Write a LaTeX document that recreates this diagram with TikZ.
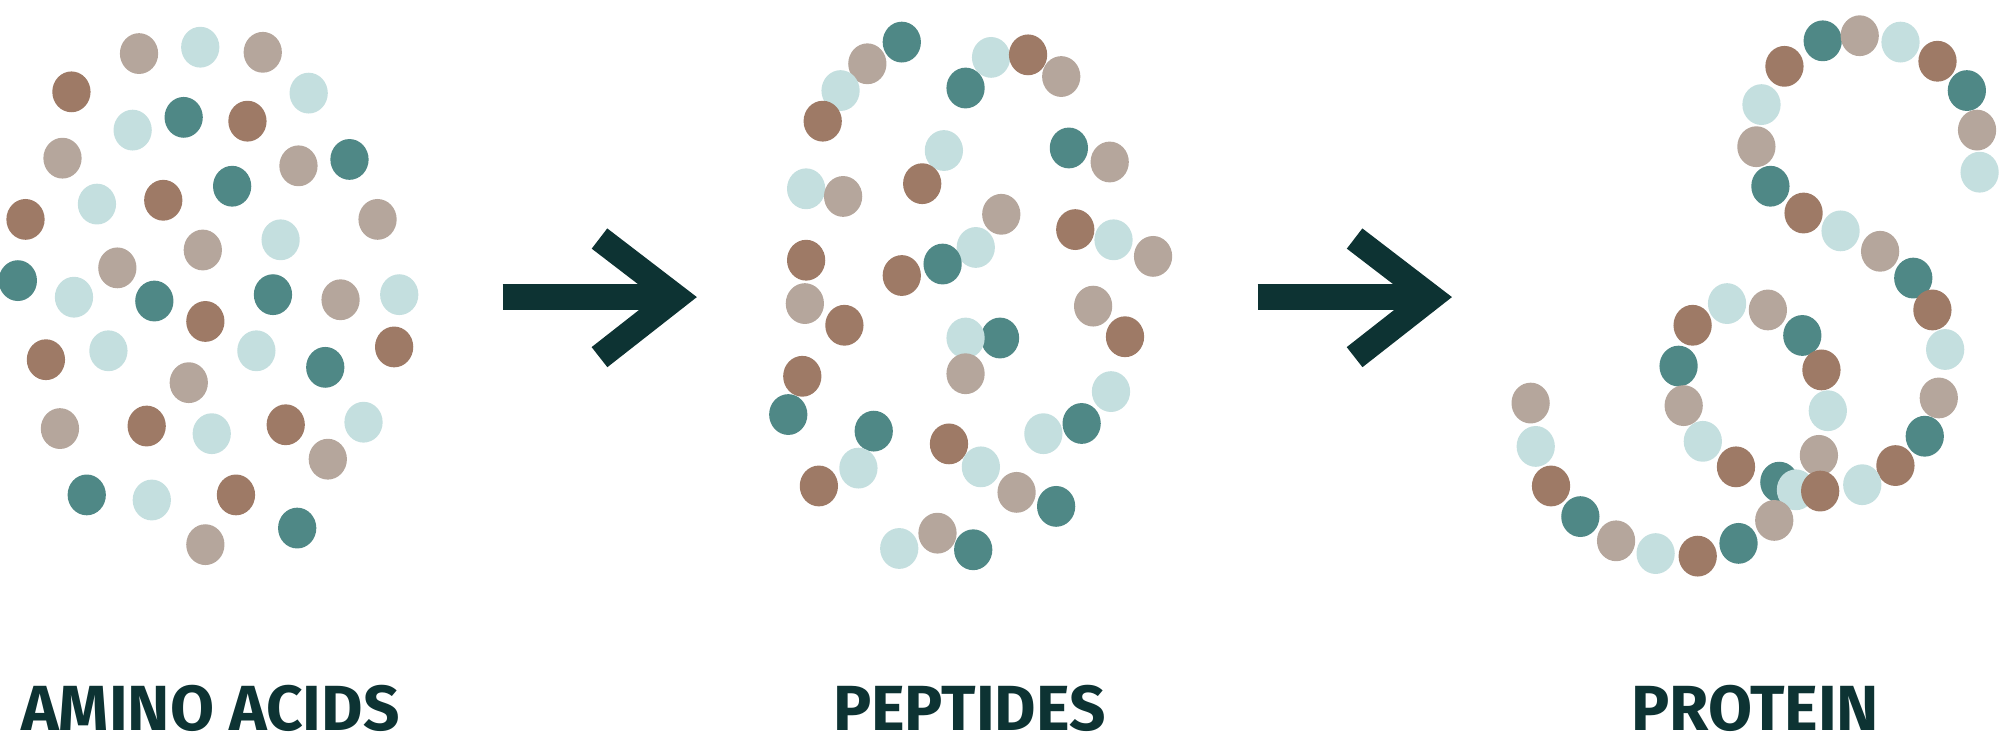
\documentclass[tikz,border=0pt]{standalone}
\usepackage{fontspec}
\setmainfont{Fira Sans}
\definecolor{tl}{HTML}{4F8886}
\definecolor{lt}{HTML}{C4DFDF}
\definecolor{br}{HTML}{9E7A66}
\definecolor{gr}{HTML}{B5A69C}
\definecolor{dk}{HTML}{0D3333}
\tikzset{arr/.style={draw=dk,line width=20pt},lab/.style={text=dk,font=\bfseries\fontsize{50}{50}\selectfont,anchor=base}}
\newcommand{\mydots}[1]{\foreach \c/\x/\y in {#1}{\fill[\c] (\x,\y) ellipse[x radius=15,y radius=16];}}
\begin{document}
\begin{tikzpicture}[x=1pt,y=-1pt]
\useasboundingbox (0,0) rectangle (1568,590);
\mydots{gr/109/42,lt/157/37,gr/206/41,br/56/72,lt/242/73,lt/104/102,tl/144/92,br/194/95,gr/49/124,gr/234/130,tl/274/125,lt/76/160,br/128/157,tl/182/146,br/20/172,gr/296/172,lt/220/188,gr/159/196,gr/92/210,tl/14/220,lt/58/233,tl/121/236,br/161/252,tl/214/231,gr/267/235,lt/313/231,br/36/282,lt/85/275,lt/201/275,tl/255/288,br/309/272,gr/148/300,gr/47/336,br/115/334,lt/166/340,br/224/333,lt/285/331,gr/257/360,tl/68/388,lt/119/392,br/185/388,tl/233/414,gr/161/427}
\mydots{tl/707/33,gr/680/50,lt/777/45,br/806/43,gr/832/60,lt/659/71,tl/757/69,br/645/95,lt/740/118,tl/838/116,gr/870/127,lt/632/148,gr/661/154,br/723/144,gr/785/168,br/843/180,lt/873/188,gr/904/201,br/632/204,lt/765/194,tl/739/207,br/707/216,gr/631/238,br/662/255,gr/857/240,tl/784/265,lt/757/265,br/882/264,gr/757/293,br/629/295,lt/871/307,tl/618/325,tl/685/338,br/744/348,lt/818/340,tl/848/332,lt/769/366,lt/673/367,br/642/381,gr/797/386,tl/828/397,lt/705/430,gr/735/418,tl/763/431}
\mydots{tl/1429/32,gr/1458/28,lt/1490/33,br/1519/48,br/1399/52,tl/1542/71,lt/1381/82,gr/1550/102,gr/1377/115,lt/1552/135,tl/1388/146,br/1414/167,lt/1443/181,gr/1474/197,tl/1500/218,br/1515/243,lt/1354/238,gr/1386/243,br/1327/255,tl/1413/263,lt/1525/274,tl/1316/287,br/1428/290,gr/1520/312,gr/1320/318,lt/1433/322,gr/1200/316,lt/1204/350,lt/1335/346,tl/1509/342,gr/1426/357,br/1361/366,br/1486/365,tl/1395/378,lt/1408/384,br/1427/385,lt/1460/380,br/1216/381,gr/1391/408,tl/1239/405,gr/1267/424,lt/1298/434,br/1331/436,tl/1363/426}
\coordinate (a1s) at (394,233); \coordinate (a1e) at (520,233);
\coordinate (a1t) at (470,187); \coordinate (a1p) at (530,233); \coordinate (a1b) at (470,280);
\draw[arr] (a1s) -- (a1e); \draw[arr,line join=miter] (a1t) -- (a1p) -- (a1b);
\coordinate (a2s) at (986,233); \coordinate (a2e) at (1112,233);
\coordinate (a2t) at (1062,187); \coordinate (a2p) at (1122,233); \coordinate (a2b) at (1062,280);
\draw[arr] (a2s) -- (a2e); \draw[arr,line join=miter] (a2t) -- (a2p) -- (a2b);
\node[lab] (l1) at (165,573) {AMINO ACIDS};
\node[lab] (l2) at (760,573) {PEPTIDES};
\node[lab] (l3) at (1376,573) {PROTEIN};
\end{tikzpicture}
\end{document}
